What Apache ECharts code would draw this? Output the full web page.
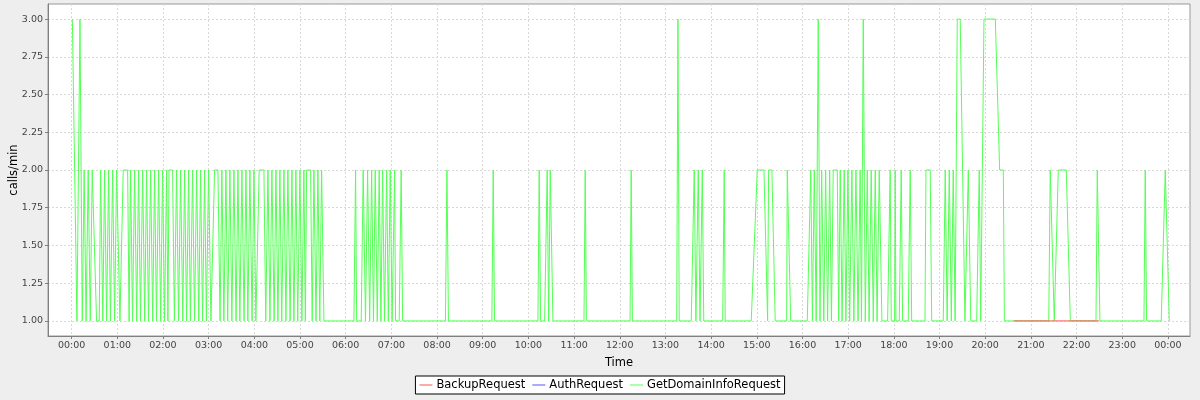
<!DOCTYPE html>
<html>
<head>
<meta charset="utf-8">
<script src="https://cdn.jsdelivr.net/npm/echarts@6/dist/echarts.min.js"></script>
<style>
html,body{margin:0;padding:0;background:#eeeeee;}
#chart{width:1200px;height:400px;}
</style>
</head>
<body>
<div id="chart"></div>
<script>
// x values: minutes after 00:00, y values: calls/min
const hourTicks = [0,60,120,180,240,300,360,420,480,540,600,660,720,780,840,900,960,1020,1080,1140,1200,1260,1320,1380,1440];
const hourLabels = ['00:00','01:00','02:00','03:00','04:00','05:00','06:00','07:00','08:00','09:00','10:00','11:00','12:00','13:00','14:00','15:00','16:00','17:00','18:00','19:00','20:00','21:00','22:00','23:00','00:00'];
const yTicks = [1.00,1.25,1.50,1.75,2.00,2.25,2.50,2.75,3.00];
const seriesNames = ['BackupRequest','AuthRequest','GetDomainInfoRequest'];

const domainNight = [
  [1,3],[7,1],[11,3],[14,1],[16.5,2],[19,1],[21.8,2],[24.5,1],[27.1,2],[32.8,1],[36.3,1],[38.1,2],[41,1],[43.3,2],[46,1],[48.6,2],[51,1],[53.9,2],[56.5,1],[59.1,2],[63.5,1],[67.8,2],[73.6,2],[75.5,1],[77.5,2],[80,1],[82.8,2],[85.5,1],[88,2],[90.5,1],[93.3,2],[96,1],[98.5,2],[101,1],[103.8,2],[106.5,1],[109,2],[111.5,1],[114.3,2],[117,1],[119.5,2],[122,1],[124.8,2],[126.5,1],[128,2],[132.6,2],[135,1],[137.9,2],[140.5,1],[143.2,2],[146,1],[148.4,2],[151,1],[153.7,2],[156,1],[158.9,2],[161.5,1],[164.2,2],[167,1],[169.4,2],[172,1],[174.7,2],[177,1],[179.9,2],[183,1],[187.8,2],[192.2,2],[195,1],[197.4,2],[200,1],[202.7,2],[205,1],[207.9,2],[210.5,1],[213.2,2],[216,1],[218.5,2],[221,1],[223.7,2],[226.5,1],[229,2],[231.5,1],[234.2,2],[237,1],[239.5,2],[242,1],[246.4,2],[252.6,2],[255,1],[257.9,2],[260.5,1],[263.1,2],[266,1],[268.4,2],[271,1],[273.6,2],[276,1],[278.9,2],[281.5,1],[284.1,2],[287,1],[289.4,2],[292,1],[294.6,2],[297,1],[299.9,2],[302.5,1],[305.1,2],[307,1],[308.7,2],[313.9,2],[316,1],[318.3,2],[321,1],[323.5,2],[326,1],[328.4,2],[331.4,1]
];
const domainMorning = [
  [370.8,1],[373,2],[374.4,1],[380.4,1],[383,2],[386,1],[388.8,2],[391.5,1],[394.1,2],[396.5,1],[398.8,2],[401.5,1],[404,2],[406.3,1],[408.5,2],[411,1],[413.8,2],[416,1],[418.5,2],[421,1],[424.3,2],[425.5,1],[430.3,1],[432.9,2],[434.8,1],
  [491,1],[493,2],[495,1],[552,1],[553.8,2],[555.5,1],
  [612.5,1],[614.2,2],[616,1],[621.3,1],[624.7,2],[626.6,1],[628.7,2],[632.2,1],
  [673,1],[674.6,2],[676.2,1],[733.5,1],[735,2],[736.6,1]
];
const domainAfternoon = [
  [794.8,1],[796.4,3],[798.1,1],[813.9,1],[817.8,2],[820,1],[823.1,2],[825.4,1],[828.4,2],[830.3,1],[855.2,1],[857.2,2],[858.5,1],[892.7,1],[900.6,2],[909.4,2],[914.2,1],[915.5,2],[919.8,2],[924.2,1],[939.2,1],[940,2],[944.5,1],[966.3,1],
  [970.9,2],[973,1],[975.5,2],[978,1],[980.7,3],[983,1],[985.2,2],[988,1],[990.4,2],[993,1],[995.7,2],[998,1],[1000.4,2],[1005.7,2],[1007.5,1],[1009.6,2],[1012,1],[1014.8,2],[1017,1],[1019.7,2],[1022,1],[1024.9,2],[1027.5,1],[1030.2,2],[1033,1],[1035.7,2],[1037.5,1],[1039.8,3],[1042.5,1],[1045.1,2],[1047.5,1],[1050.3,2],[1053,1],[1055.6,2],[1058,1],[1060.8,2],[1064.3,1],[1071.8,1],[1075.2,2],[1076.6,1],[1081,1],[1081.8,2],[1082.7,1],[1087.1,1],[1089.7,2],[1091.5,1],[1098.9,1],[1101.5,2],[1103.4,1],[1120.9,1],[1122.2,2],[1127.8,2],[1129.7,1],[1144.9,1]
];
const domainEvening = [
  [1147.5,2],[1150,1],[1152.8,2],[1155.5,1],[1158,2],[1160.5,1],[1163.3,3],[1167.2,3],[1173.4,1],[1177.8,2],[1181,1],[1188.8,1],[1192.2,2],[1194.1,1],[1198.4,3],[1213.3,3],[1219,2],[1223.8,2],[1225.2,1],
  [1283.5,1],[1285.4,2],[1290.7,1],[1296,2],[1306.5,2],[1311.8,1],[1345.5,1],[1347.2,2],[1350.7,1],[1408.5,1],[1410.2,2],[1412,1],[1431.2,1],[1436.5,2],[1441.8,1]
];
const backupPoints = [[1237.6,1],[1349.7,1]];
const authPoints = [];

const domainPoints = domainNight.concat(domainMorning, domainAfternoon, domainEvening);

const chart = echarts.init(document.getElementById('chart'), null, {renderer:'canvas'});
const font = 'DejaVu Sans';
chart.setOption({
  animation: false,
  backgroundColor: '#eeeeee',
  textStyle: {fontFamily: font},
  grid: {left: 48, right: 10, top: 4, bottom: 64, containLabel: false, outerBoundsMode: 'none',
    show: true, backgroundColor: '#ffffff', borderColor: '#999999', borderWidth: 1},
  legend: {
    data: seriesNames,
    top: 376, left: 'center',
    backgroundColor: '#ffffff', borderColor: '#000000', borderWidth: 1,
    padding: [3, 4], itemGap: 7, itemWidth: 13, itemHeight: 1,
    icon: 'rect',
    textStyle: {fontFamily: font, fontSize: 11.5, color: '#000000', padding: [0,0,0,-1]}
  },
  xAxis: {
    type: 'value', min: -31, max: 1469,
    name: 'Time', nameLocation: 'middle', nameGap: 21, nameMoveOverlap: false,
    nameTextStyle: {fontFamily: font, fontSize: 11.5, color: '#000000'},
    axisLine: {show: true, onZero: false, lineStyle: {color: '#808080'}},
    axisTick: {show: true, customValues: hourTicks, length: 3, lineStyle: {color: '#808080'}},
    axisLabel: {customValues: hourTicks, fontFamily: font, fontSize: 9.5, color: '#444444', margin: 5,
      formatter: v => hourLabels[hourTicks.indexOf(v)]},
    splitLine: {show: true, lineStyle: {color: '#d8d8d8', type: [2, 2], width: 1}}
  },
  yAxis: {
    type: 'value', min: 0.9, max: 3.1,
    name: 'calls/min', nameLocation: 'middle', nameGap: 28, nameRotate: 90, nameMoveOverlap: false,
    nameTextStyle: {fontFamily: font, fontSize: 11.5, color: '#000000'},
    axisLine: {show: true, onZero: false, lineStyle: {color: '#808080'}},
    axisTick: {show: true, customValues: yTicks, length: 3, lineStyle: {color: '#808080'}},
    axisLabel: {customValues: yTicks, fontFamily: font, fontSize: 9.5, color: '#444444', margin: 5,
      formatter: v => v.toFixed(2)},
    splitLine: {show: true, lineStyle: {color: '#d8d8d8', type: [2, 2], width: 1}}
  },
  series: [
    {name: seriesNames[0], type: 'line', data: backupPoints, showSymbol: false, symbol: 'none', z: 4,
      color: '#ff5555', lineStyle: {width: 1, color: '#ff5555'}},
    {name: seriesNames[1], type: 'line', data: authPoints, showSymbol: false, symbol: 'none', z: 3,
      color: '#5555ff', lineStyle: {width: 1, color: '#5555ff'}},
    {name: seriesNames[2], type: 'line', data: domainPoints, showSymbol: false, symbol: 'none', z: 2,
      color: '#55ff55', lineStyle: {width: 1, color: '#55ff55'}}
  ]
});
</script>
</body>
</html>
